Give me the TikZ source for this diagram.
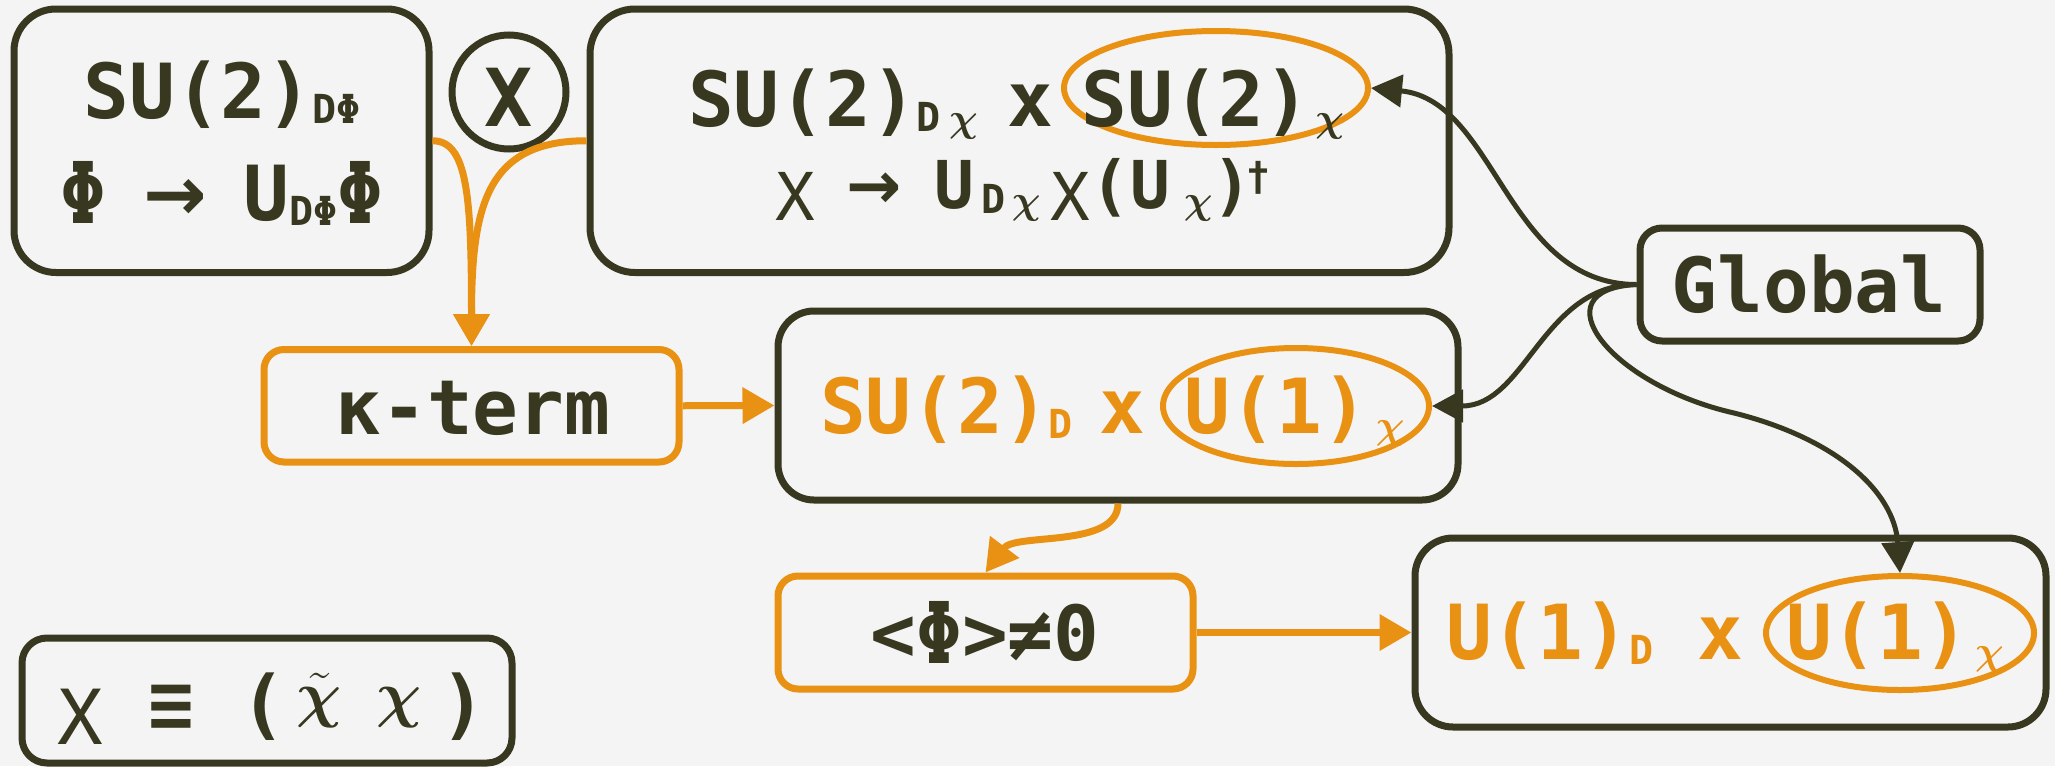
\RequirePackage{fix-cm}
\documentclass[tikz,border=0pt]{standalone}
\usepackage{amsmath}
\usepackage{graphicx}
\usepackage{fontspec}
\usetikzlibrary{arrows.meta,shapes.geometric}
\newfontfamily\dmono{DejaVu Sans Mono}
\newfontfamily\dsans{DejaVu Sans}
\definecolor{bgc}{HTML}{F4F4F4}
\definecolor{dk}{HTML}{383821}
\definecolor{orng}{HTML}{E99113}
\newcommand{\sbx}[1]{\raisebox{-5pt}{\fontsize{40}{40}\selectfont #1}}
\newcommand{\lowx}[1]{\raisebox{-#1}{\mdseries X}}
\newcommand{\bchi}{$\boldsymbol{\chi}$}
\newcommand{\bigarr}[1]{\makebox[#1][c]{\dsans\bfseries →}}
\newcommand{\tallphi}{\raisebox{-3pt}{\scalebox{1}[1.12]{Φ}}}
\begin{document}
\begin{tikzpicture}[x=1pt,y=-1pt,
  box/.style={draw=dk, line width=7pt, inner sep=0pt, rectangle},
  obox/.style={draw=orng, line width=7pt, inner sep=0pt, rectangle},
  ell/.style={ellipse, draw=orng, line width=6pt, inner sep=0pt},
  txt/.style={font=\dmono\bfseries\fontsize{76}{80}\selectfont, text=dk, anchor=base, inner sep=0pt},
  otxt/.style={txt, text=orng},
  darr/.style={draw=dk, line width=5pt, -{Triangle[length=31pt,width=32pt]}},
  oarr/.style={draw=orng, line width=7pt, -{Triangle[length=32pt,width=35pt]}}]
\useasboundingbox (0,0) rectangle (2055,766);
\fill[bgc] (0,0) rectangle (2055,766);

% boxes
\node[box, rounded corners=42pt, minimum width=415pt, minimum height=263.5pt] (A) at (221.5,140.75) {};
\node[box, rounded corners=45pt, minimum width=859pt, minimum height=263.5pt] (B) at (1019.5,140.75) {};
\node[box, rounded corners=36pt, minimum width=680pt, minimum height=189pt] (C) at (1118,405.5) {};
\node[box, rounded corners=38pt, minimum width=631pt, minimum height=189pt] (D) at (1730.5,632.5) {};
\node[box, rounded corners=22pt, minimum width=340pt, minimum height=113pt] (G) at (1810,284.5) {};
\node[box, rounded corners=25pt, minimum width=490pt, minimum height=125pt] (L) at (267,700.5) {};
\node[obox, rounded corners=20pt, minimum width=415pt, minimum height=112.5pt] (K) at (471.5,405.75) {};
\node[obox, rounded corners=20pt, minimum width=415pt, minimum height=113pt] (P) at (985.5,632.5) {};

% circled X
\node[circle, draw=dk, line width=7pt, minimum size=114pt, inner sep=0pt, text=dk,
      font=\dmono\bfseries\fontsize{80}{80}\selectfont, text height=68pt, text depth=0pt] (X) at (509,92) {X};

% ellipses
\node[ell, minimum width=304pt, minimum height=114pt] (EB) at (1216,88) {};
\node[ell, minimum width=266pt, minimum height=116pt] (EC) at (1296,406) {};
\node[ell, minimum width=268pt, minimum height=114pt] (ED) at (1900,633) {};

% texts
\node[txt] (A1) at (222,118) {SU(2)\sbx{DΦ}};
\node[txt] (A2) at (222,220) {\tallphi{} \bigarr{45.75pt} U\sbx{DΦ}\tallphi};
\node[txt, anchor=base west] (B1) at (688,126) {SU(2)\sbx{D\hspace{8pt}\bchi}\hspace{30pt}x\hspace{28pt}SU(2)\hspace{5pt}\sbx{\bchi}};
\node[txt, anchor=base west, font=\dmono\bfseries\fontsize{66}{70}\selectfont] (B2) at (775,208)
  {\lowx{12pt} \bigarr{39.7pt} U\hspace{8pt}\sbx{D\hspace{6pt}\bchi}\hspace{10pt}\lowx{12pt}(U\hspace{14pt}\sbx{\bchi})\hspace{-6pt}\raisebox{18pt}{\fontsize{40}{40}\selectfont †}};
\node[otxt, anchor=base west] (C1) at (820,433) {SU(2)\sbx{D}\hspace{26pt}x\hspace{40pt}U(1)\hspace{8pt}\sbx{\bchi}};
\node[otxt, anchor=base west] (D1) at (1446,659) {U(1)\sbx{D}\hspace{44pt}x\hspace{43pt}U(1)\hspace{6pt}\sbx{\bchi}};
\node[txt] (Kt) at (473,434) {κ-term};
\node[txt] (Pt) at (985,660) {<\tallphi>≠0};
\node[txt] (Gt) at (1809,312) {Global};
\node[txt, anchor=base west] (Lt) at (57,730)
  {\lowx{14pt}\hspace{45.75pt}≡\hspace{45.75pt}(\hspace{11pt}\raisebox{15pt}{\fontsize{63}{63}\selectfont$\tilde{\boldsymbol{\chi}}$}\hspace{34pt}\raisebox{15pt}{\fontsize{63}{63}\selectfont\bchi}\hspace{19pt})};

% connectors
\coordinate (GD) at (1734,413);
\draw[oarr] (A.east) .. controls +(35,0) and +(0,-150) .. (K.north);
\draw[oarr] (B.west) .. controls +(-100,0) and +(0,-140) .. (K.north);
\draw[oarr] (K.east) -- (C.west);
\draw[oarr] (C.south) .. controls +(0,45) and +(30,-40) .. (P.north);
\draw[oarr] (P.east) -- (D.west);
\draw[darr] (G.west) .. controls +(-130,0) and +(125,12) .. (EB.east);
\draw[darr] (G.west) .. controls +(-94,0) and +(94,0) .. (EC.east);
\draw[darr] (G.west) .. controls +(-100,5) and (1610,385) .. (GD) .. controls (1834,438) and +(-6,-83) .. (ED.north);
\end{tikzpicture}
\end{document}
